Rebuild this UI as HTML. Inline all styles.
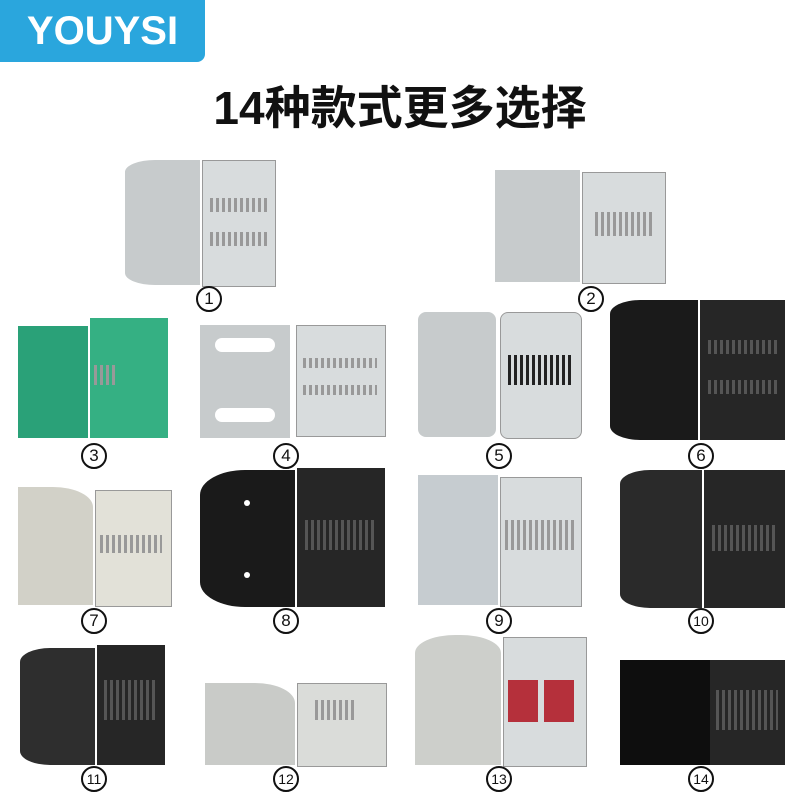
<!DOCTYPE html>
<html><head><meta charset="utf-8"><style>
body{margin:0;width:800px;height:800px;background:#fff;position:relative;overflow:hidden;font-family:"Liberation Sans","Noto Sans CJK SC",sans-serif}
.a{position:absolute}
.logo{left:0;top:0;width:205px;height:62px;background:#2aa6dd;color:#fff;font-weight:bold;font-size:40px;line-height:62px;text-align:center;border-bottom-right-radius:8px}
.title{left:0;width:800px;top:72px;text-align:center;font-size:46px;font-weight:bold;color:#111}
.n{width:22px;height:22px;border:2px solid #111;border-radius:50%;font-size:17px;line-height:22px;text-align:center;color:#111;background:#fff}
.g{background:#c7cbcc}.gt{background:#d8dcdd}
.k{background:#1a1a1a}.kt{background:#262626}
.t{border:1px solid #999}
.sl{background:repeating-linear-gradient(90deg,#999 0 3px,transparent 3px 6px)}
.sw{background:repeating-linear-gradient(90deg,#555 0 3px,transparent 3px 6px)}
</style></head><body>
<div class="a logo">YOUYSI</div>
<div class="a title">14种款式更多选择</div>

<div class="a g" style="left:125px;top:160px;width:75px;height:125px;border-radius:30px 0 0 30px/12px 0 0 12px"></div>
<div class="a gt t" style="left:202px;top:160px;width:72px;height:125px"></div>
<div class="a sl" style="left:210px;top:198px;width:58px;height:14px"></div>
<div class="a sl" style="left:210px;top:232px;width:58px;height:14px"></div>
<div class="a g" style="left:495px;top:170px;width:85px;height:112px"></div>
<div class="a gt t" style="left:582px;top:172px;width:82px;height:110px"></div>
<div class="a sl" style="left:595px;top:212px;width:60px;height:24px"></div>
<div class="a" style="left:18px;top:326px;width:70px;height:112px;background:#2aa178"></div>
<div class="a" style="left:90px;top:318px;width:78px;height:120px;background:#35b083"></div>
<div class="a sl" style="left:94px;top:365px;width:22px;height:20px"></div>
<div class="a g" style="left:200px;top:325px;width:90px;height:113px"></div>
<div class="a" style="left:215px;top:338px;width:60px;height:14px;background:#fff;border-radius:7px"></div>
<div class="a" style="left:215px;top:408px;width:60px;height:14px;background:#fff;border-radius:7px"></div>
<div class="a gt t" style="left:296px;top:325px;width:88px;height:110px"></div>
<div class="a sl" style="left:303px;top:358px;width:74px;height:10px"></div>
<div class="a sl" style="left:303px;top:385px;width:74px;height:10px"></div>
<div class="a g" style="left:418px;top:312px;width:78px;height:125px;border-radius:8px"></div>
<div class="a gt t" style="left:500px;top:312px;width:80px;height:125px;border-radius:8px"></div>
<div class="a" style="left:508px;top:355px;width:64px;height:30px;background:repeating-linear-gradient(90deg,#222 0 3px,transparent 3px 6px)"></div>
<div class="a k" style="left:610px;top:300px;width:88px;height:140px;border-radius:30px 0 0 30px/14px 0 0 14px"></div>
<div class="a kt" style="left:700px;top:300px;width:85px;height:140px"></div>
<div class="a sw" style="left:708px;top:340px;width:70px;height:14px"></div>
<div class="a sw" style="left:708px;top:380px;width:70px;height:14px"></div>
<div class="a" style="left:18px;top:487px;width:75px;height:118px;background:#d2d1c8;border-radius:0 40px 0 0/0 20px 0 0"></div>
<div class="a t" style="left:95px;top:490px;width:75px;height:115px;background:#e2e1d8"></div>
<div class="a sl" style="left:100px;top:535px;width:62px;height:18px"></div>
<div class="a k" style="left:200px;top:470px;width:95px;height:137px;border-radius:45px 0 0 45px/25px 0 0 25px"></div>
<div class="a kt" style="left:297px;top:468px;width:88px;height:139px"></div>
<div class="a" style="left:244px;top:500px;width:6px;height:6px;background:#fff;border-radius:50%"></div>
<div class="a" style="left:244px;top:572px;width:6px;height:6px;background:#fff;border-radius:50%"></div>
<div class="a sw" style="left:305px;top:520px;width:70px;height:30px"></div>
<div class="a" style="left:418px;top:475px;width:80px;height:130px;background:#c6ccd0"></div>
<div class="a gt t" style="left:500px;top:477px;width:80px;height:128px"></div>
<div class="a sl" style="left:505px;top:520px;width:70px;height:30px"></div>
<div class="a" style="left:620px;top:470px;width:82px;height:138px;background:#2a2a2a;border-radius:30px 0 0 30px/14px 0 0 14px"></div>
<div class="a kt" style="left:704px;top:470px;width:81px;height:138px"></div>
<div class="a sw" style="left:712px;top:525px;width:66px;height:26px"></div>
<div class="a" style="left:20px;top:648px;width:75px;height:117px;background:#2e2e2e;border-radius:30px 0 0 30px/14px 0 0 14px"></div>
<div class="a kt" style="left:97px;top:645px;width:68px;height:120px"></div>
<div class="a sw" style="left:104px;top:680px;width:54px;height:40px"></div>
<div class="a" style="left:205px;top:683px;width:90px;height:82px;background:#c9cbc8;border-radius:0 40px 0 0/0 20px 0 0"></div>
<div class="a t" style="left:297px;top:683px;width:88px;height:82px;background:#dadcd9"></div>
<div class="a sl" style="left:315px;top:700px;width:40px;height:20px"></div>
<div class="a g" style="left:415px;top:635px;width:86px;height:130px;border-radius:40px 40px 0 0/18px 18px 0 0;background:#cdcfcb"></div>
<div class="a gt t" style="left:503px;top:637px;width:82px;height:128px"></div>
<div class="a" style="left:508px;top:680px;width:30px;height:42px;background:#b5303b"></div>
<div class="a" style="left:544px;top:680px;width:30px;height:42px;background:#b5303b"></div>
<div class="a" style="left:620px;top:660px;width:90px;height:105px;background:#0e0e0e"></div>
<div class="a kt" style="left:710px;top:660px;width:75px;height:105px"></div>
<div class="a sw" style="left:716px;top:690px;width:62px;height:40px"></div>

<div class="a n" style="left:196px;top:286px">1</div>
<div class="a n" style="left:578px;top:286px">2</div>
<div class="a n" style="left:81px;top:443px">3</div>
<div class="a n" style="left:273px;top:443px">4</div>
<div class="a n" style="left:486px;top:443px">5</div>
<div class="a n" style="left:688px;top:443px">6</div>
<div class="a n" style="left:81px;top:608px">7</div>
<div class="a n" style="left:273px;top:608px">8</div>
<div class="a n" style="left:486px;top:608px">9</div>
<div class="a n" style="left:688px;top:608px;font-size:14px">10</div>
<div class="a n" style="left:81px;top:766px;font-size:14px">11</div>
<div class="a n" style="left:273px;top:766px;font-size:14px">12</div>
<div class="a n" style="left:486px;top:766px;font-size:14px">13</div>
<div class="a n" style="left:688px;top:766px;font-size:14px">14</div>
</body></html>
